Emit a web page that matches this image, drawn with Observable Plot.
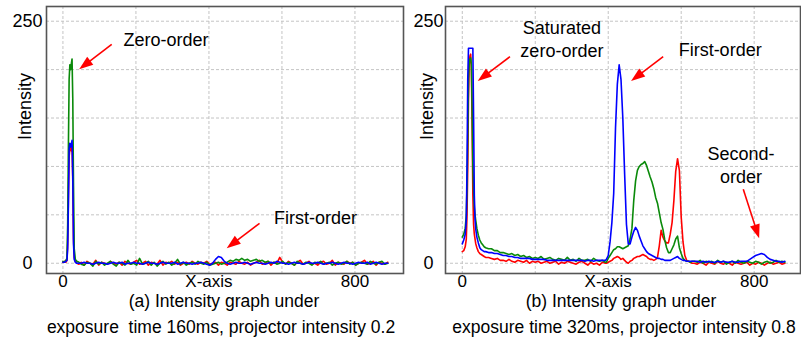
<!DOCTYPE html>
<html><head><meta charset="utf-8">
<script src="https://cdn.jsdelivr.net/npm/d3@7"></script>
<script src="https://cdn.jsdelivr.net/npm/@observablehq/plot@0.6"></script>
<style>
body{margin:0;background:#fff;}
#wrap{position:relative;width:801px;height:343px;overflow:hidden;background:#fff;}
#a,#b{position:absolute;top:0;}
#a{left:0;} #b{left:405px;}
svg text{white-space:pre;}
</style></head><body><div id="wrap"><div id="a"></div><div id="b"></div></div>
<script>
const FONT = "'Liberation Sans', Arial, sans-serif";
const xGrid = [0, 200, 400, 600, 800];
const yGrid = [0, 50, 100, 150, 200, 250];
const xTickValues = [0, 400, 800];
const xTickLabels = ["0", "X-axis", "800"];
const yTickValues = [0, 250];
const yTickLabels = ["0", "250"];

// Panel (a)
const xA = [0,4,8,11,13,15,17,19,21,23,25,27,29,31,34,38,44,
50,58,66,74,82,90,98,106,114,122,
130,138,146,154,162,170,178,186,194,202,
210,218,226,234,242,250,258,266,274,282,
290,298,306,314,322,330,338,346,354,362,
370,378,386,394,402,410,418,426,434,442,
450,458,466,474,482,490,498,506,514,522,
530,538,546,554,562,570,578,586,594,602,
610,618,626,634,642,650,658,666,674,682,
690,698,706,714,722,730,738,746,754,762,
770,778,786,794,802,810,818,826,834,842,
850,858,866,874,882,890];
const redA = [1,2,1,3,20,70,110,118,120,116,122,85,25,6,2,0,-1,
1,-2,2,0,-1,3,-2,1,0,-1,
2,0,-1,1,-2,2,0,-1,1,3,
-1,0,2,-2,1,0,-1,3,-2,1,
0,2,-1,1,-2,0,1,-1,2,0,
-1,1,0,2,-1,0,1,-2,1,0,
-2,1,0,-1,2,0,-1,1,-2,0,
1,3,-1,0,2,-2,1,0,6,1,
-1,2,0,-2,1,3,-1,0,2,-1,
0,-2,1,2,-1,0,3,-2,1,0,
-1,2,0,1,-2,0,1,3,-1,0,
2,-2,1,0,-1,1];
const greenA = [2,1,3,5,40,120,190,205,200,206,211,170,80,15,4,2,1,
-1,-2,1,0,-3,2,-1,1,-2,0,
2,-1,-3,1,0,-2,3,-1,0,-2,
5,-1,0,2,-2,1,-3,0,2,-1,
1,-2,0,4,-1,1,-2,0,1,-1,
2,0,-1,1,-2,-1,0,1,-1,0,
1,3,2,4,3,5,3,4,2,3,
4,2,3,1,2,0,1,-1,0,2,
-1,1,0,-2,2,0,-1,1,0,-2,
1,0,2,-1,0,1,-2,0,1,-1,
0,2,-1,1,-2,0,1,0,-1,2,
0,-1,1,2,-1,0];
const blueA = [1,1,2,3,15,60,118,124,120,122,127,90,20,4,1,0,0,
0,1,0,0,-1,0,1,0,0,-1,
0,1,0,0,1,-1,0,0,1,0,
0,-1,0,1,0,0,-1,0,1,0,
0,0,1,-1,0,1,0,0,-1,0,
0,1,0,-1,-2,0,4,7,6,2,
0,-1,0,1,0,0,1,0,-1,0,
1,0,0,-1,0,1,0,2,1,0,
0,-1,0,1,0,0,-1,0,1,0,
0,1,0,-1,0,0,1,0,-1,0,
1,0,0,-1,0,1,0,0,1,-1,
0,1,0,-1,0,0];

// Panel (b)
const xB = [0,4,8,11,13,15,17,19,21,23,25,27,29,31,33,35,37,40,44,48,52,56,60,
64,72,80,88,96,104,112,120,128,136,
144,152,160,168,176,184,192,200,208,216,
224,232,240,248,256,264,272,280,288,296,
304,312,320,328,336,344,352,360,368,376,
384,392,
395,400,405,410,415,420,425,430,435,440,
445,450,455,460,465,470,475,480,485,490,
495,500,505,510,515,520,525,530,535,540,
545,550,555,560,565,570,575,580,585,590,
595,600,605,610,615,620,625,630,
636,644,652,660,668,676,684,692,700,708,
716,724,732,740,748,756,764,772,780,788,
796,804,812,820,828,836,844,852,860,868,
876,884];
const redB = [12,13,17,25,50,100,170,205,214,216,200,140,70,40,30,25,20,16,12,10,9,8,7,
6,6,5,4,5,3,3,2,4,2,
1,3,2,1,3,0,2,1,2,0,
1,2,0,1,2,-1,1,0,2,1,
0,-1,1,2,0,-2,1,-1,0,-2,
1,0,
0,1,2,3,5,6,7,6,4,5,
3,1,0,2,3,5,6,7,7,8,
9,8,7,5,4,4,3,4,6,18,
34,27,23,21,21,30,42,65,95,108,
96,48,22,8,3,2,1,0,
0,-1,1,0,-2,1,0,-1,2,0,
-1,1,0,-2,1,0,-1,0,1,-2,
0,-1,1,0,-2,0,1,-1,0,1,
-1,0];
const greenB = [27,30,36,50,80,130,190,208,211,212,205,160,100,75,58,50,44,36,29,24,21,19,17,
16,15,15,13,13,11,11,10,9,10,
8,9,7,8,6,7,5,6,5,7,
4,5,6,4,3,5,4,3,6,3,
4,2,5,3,3,4,2,5,3,2,
3,1,
1,5,8,11,14,15,17,17,16,15,
16,17,18,25,36,65,85,96,100,102,
103,105,101,95,89,84,77,68,62,52,
42,35,24,16,11,11,15,19,25,28,
16,10,5,3,2,2,1,2,
2,1,3,0,2,1,2,0,3,1,
2,-1,1,2,0,3,1,0,2,1,
0,2,1,-1,1,2,0,1,3,1,
2,1];
const blueB = [20,24,30,45,100,190,222,222,222,222,222,222,222,150,70,45,35,27,21,16,14,13,12,
12,11,11,10,10,9,8,8,7,7,
6,6,5,5,5,5,4,4,4,4,
4,3,3,3,3,3,3,3,3,3,
3,3,3,3,2,3,3,2,3,3,
3,3,
4,8,22,42,72,140,185,205,190,150,
92,40,20,20,27,33,37,34,28,23,
18,15,12,10,9,8,7,6,5,5,
4,4,3,3,3,3,4,5,6,7,
5,4,3,3,2,2,2,2,
2,2,1,2,1,2,1,1,2,1,
2,1,1,2,1,1,2,2,2,4,
6,8,9,10,9,6,4,3,2,2,
1,2];

const notesA = [
  {x: 166, y: 230, text: "Zero-order", anchor: "start"},
  {x: 578, y: 47, text: "First-order", anchor: "start"}
];
const arrowsA = [
  {x1: 135, y1: 225.6, x2: 45.8, y2: 199.8},
  {x1: 540, y1: 40.7, x2: 450, y2: 14.9}
];
const notesB = [
  {x: 273, y: 232.2, text: "Saturated\nzero-order", anchor: "middle"},
  {x: 593, y: 219.7, text: "First-order", anchor: "start"},
  {x: 764, y: 102.3, text: "Second-\norder", anchor: "middle"}
];
const arrowsB = [
  {x1: 132, y1: 212.8, x2: 43.8, y2: 187.7},
  {x1: 552, y1: 212.8, x2: 464, y2: 187.7},
  {x1: 771.5, y1: 75.8, x2: 815, y2: 25.2}
];

const rows = (xs, ys) => xs.map((x, i) => ({x, y: ys[i]})).filter(d => d.y !== undefined);

function arrowMark(list) {
  return (index, scales) => {
    const g = d3.create("svg:g");
    for (const a of list) {
      const x1 = scales.x(a.x1), y1 = scales.y(a.y1), x2 = scales.x(a.x2), y2 = scales.y(a.y2);
      const L = Math.hypot(x2 - x1, y2 - y1), ux = (x2 - x1) / L, uy = (y2 - y1) / L;
      const hl = 14, hw = 5;
      const bx = x2 - ux * hl, by = y2 - uy * hl;
      g.append("line").attr("x1", x1).attr("y1", y1).attr("x2", bx + ux * 3).attr("y2", by + uy * 3)
        .attr("stroke", "#ff0000").attr("stroke-width", 1.6);
      g.append("polygon")
        .attr("points", `${x2},${y2} ${bx - uy * hw},${by + ux * hw} ${bx + uy * hw},${by - ux * hw}`)
        .attr("fill", "#ff0000");
    }
    return g.node();
  };
}

function panel({width, marginLeft, marginRight, xDomain, red, green, blue, xs, notes, arrows, cap1, cap2, ylabDx, ytickDx, capDx1, capDx2}) {
  const grid = {stroke: "#c4c4c4", strokeOpacity: 1, strokeDasharray: "3,2", strokeWidth: 1};
  return Plot.plot({
    width, height: 343, marginTop: 6, marginBottom: 70, marginLeft, marginRight,
    x: {domain: xDomain, axis: null},
    y: {domain: [-10.6, 265.2], axis: null},
    style: {fontFamily: FONT, background: "white", color: "black"},
    marks: [
      Plot.ruleX(xGrid, grid),
      Plot.ruleY(yGrid, grid),
      Plot.line(rows(xs, red), {x: "x", y: "y", stroke: "#ff0000", strokeWidth: 1.6}),
      Plot.line(rows(xs, green), {x: "x", y: "y", stroke: "#0a8a0a", strokeWidth: 1.6}),
      Plot.line(rows(xs, blue), {x: "x", y: "y", stroke: "#0000ff", strokeWidth: 1.6}),
      Plot.frame({stroke: "#555", strokeWidth: 1.6}),
      Plot.text(yTickValues, {y: d => d, text: (d, i) => yTickLabels[i], frameAnchor: "left", dx: ytickDx, textAnchor: "middle", fontSize: 18, fill: "black"}),
      Plot.text(xTickValues, {x: d => d, text: (d, i) => xTickLabels[i], frameAnchor: "bottom", dy: 13.5, fontSize: 17, fill: "black"}),
      Plot.text(["Intensity"], {text: d => d, frameAnchor: "left", dx: ylabDx, rotate: -90, fontSize: 18, fill: "black"}),
      Plot.text(notes.filter(d => d.anchor === "start"), {x: "x", y: "y", text: "text", textAnchor: "start", fontSize: 18, fill: "black"}),
      Plot.text(notes.filter(d => d.anchor === "middle"), {x: "x", y: "y", text: "text", textAnchor: "middle", fontSize: 18, lineHeight: 1.26, fill: "black"}),
      arrowMark(arrows),
      Plot.text([cap1], {text: d => d, frameAnchor: "bottom", dy: 33.5, dx: capDx1, fontSize: 17.5, fill: "black"}),
      Plot.text([cap2], {text: d => d, frameAnchor: "bottom", dy: 59, dx: capDx2, fontSize: 17.5, fill: "black"})
    ]
  });
}

document.getElementById("a").append(panel({
  width: 405, marginLeft: 46, marginRight: 2, xDomain: [-45, 933],
  xs: xA, red: redA, green: greenA, blue: blueA, notes: notesA, arrows: arrowsA,
  cap1: "(a) Intensity graph under", cap2: "exposure  time 160ms, projector intensity 0.2",
  ylabDx: -21, ytickDx: -19, capDx1: -1, capDx2: -4
}));
document.getElementById("b").append(panel({
  width: 396, marginLeft: 40, marginRight: 1, xDomain: [-46, 927],
  xs: xB, red: redB, green: greenB, blue: blueB, notes: notesB, arrows: arrowsB,
  cap1: "(b) Intensity graph under", cap2: "exposure time 320ms, projector intensity 0.8",
  ylabDx: -18, ytickDx: -17, capDx1: -2, capDx2: 1
}));
</script></body></html>
